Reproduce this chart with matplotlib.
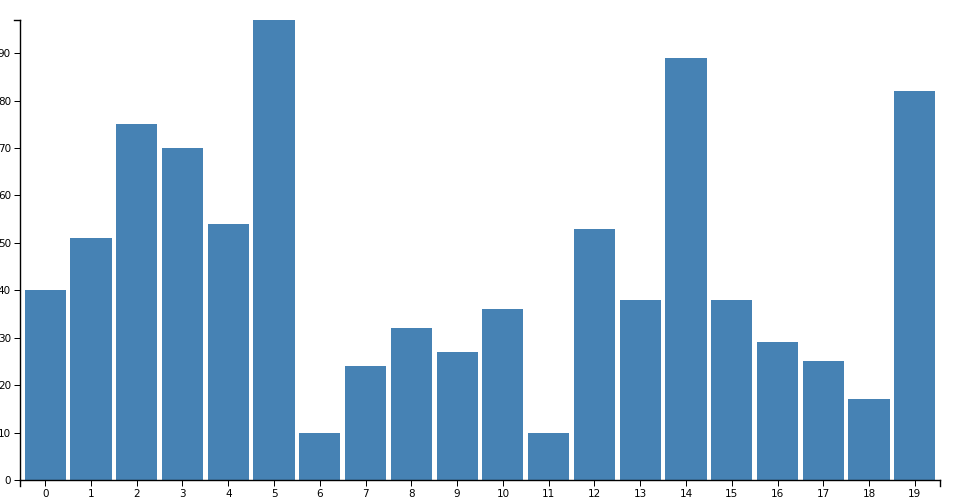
import matplotlib; matplotlib.use('Agg')
import matplotlib.pyplot as plt

categories = [str(i) for i in range(20)]
values = [40, 51, 75, 70, 54, 97, 10, 24, 32, 27, 36, 10, 53, 38, 89, 38, 29, 25, 17, 82]
y_ticks = list(range(0, 100, 10))

fig = plt.figure(figsize=(9.6, 5), dpi=100)
ax = fig.add_axes([20/960, 20/500, 920/960, 460/500])

ax.bar(range(len(values)), values, width=0.9, color='#4682b4')
# band scale with 0.1 inner and outer padding
ax.set_xlim(-0.55, len(values) - 0.45)
ax.set_ylim(0, max(values))
ax.set_xticks(range(len(values)))
ax.set_xticklabels(categories)
ax.set_yticks(y_ticks)

for s in ['top', 'right']:
    ax.spines[s].set_visible(False)
for s in ['left', 'bottom']:
    ax.spines[s].set_linewidth(1)
    ax.spines[s].set_color('black')
ax.tick_params(length=6 * 0.72, width=0.72, pad=2.2, labelsize=7.5, colors='black')

# d3-style outer ticks at the ends of the domain lines
ax.plot([0, 0], [0, -6 / 460], transform=ax.transAxes, color='black', lw=1, clip_on=False)
ax.plot([1, 1], [0, -6 / 460], transform=ax.transAxes, color='black', lw=1, clip_on=False)
ax.plot([0, -6 / 920], [1, 1], transform=ax.transAxes, color='black', lw=1, clip_on=False)

fig.savefig('out.png', dpi=100)
